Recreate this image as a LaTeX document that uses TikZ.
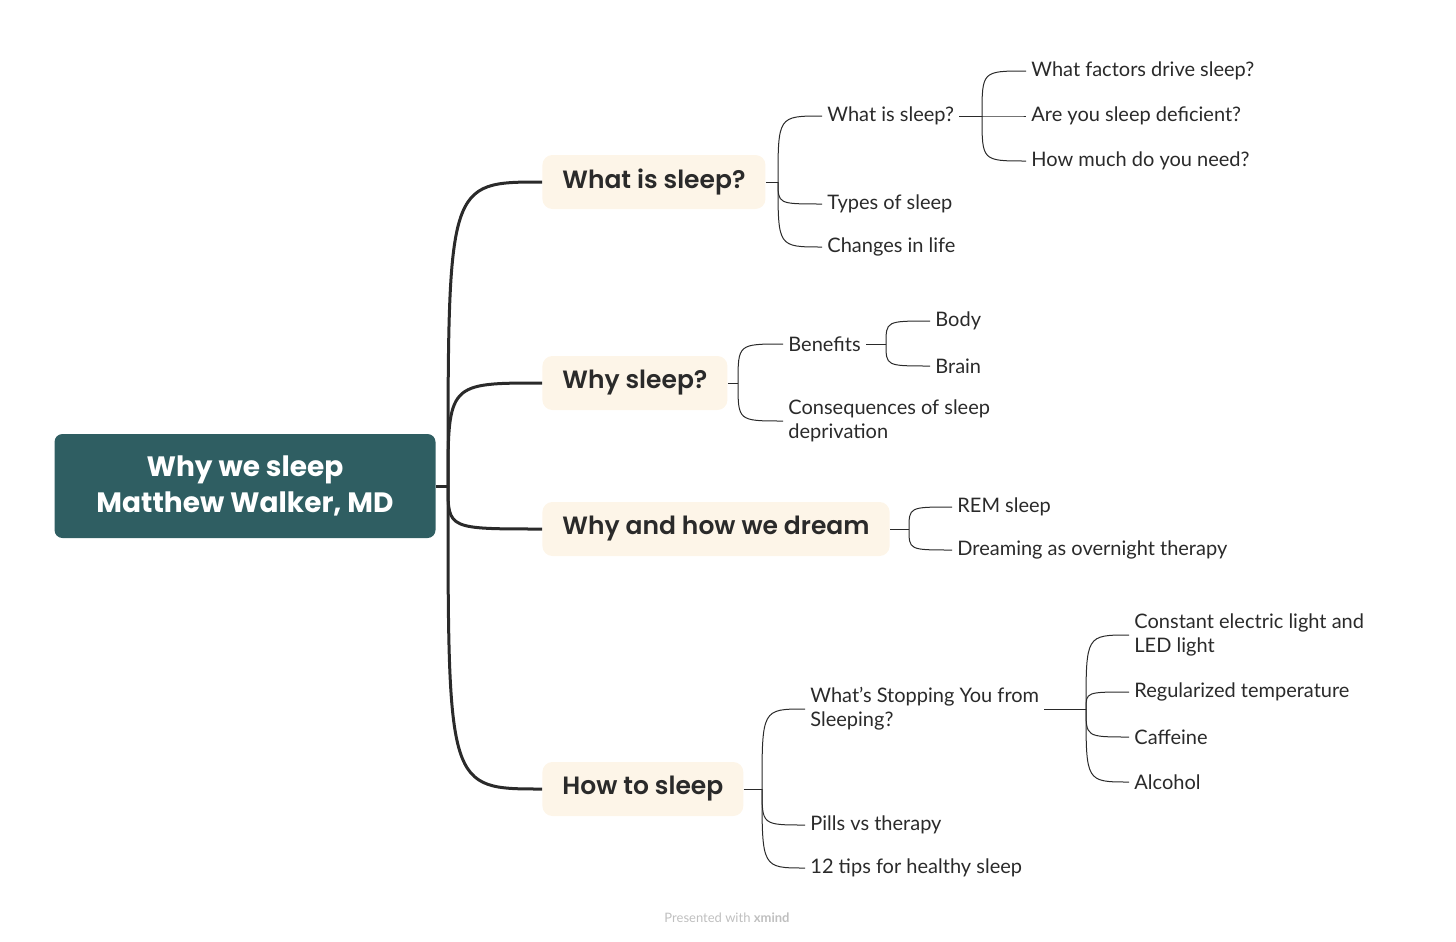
\documentclass[tikz,border=0pt]{standalone}
\usepackage{fontspec}
\setmainfont{Lato}
\newfontfamily\popb{Poppins}[UprightFont=* SemiBold]
\newfontfamily\popx{Poppins}[UprightFont=* Bold]
\definecolor{teal}{HTML}{2F5E62}
\definecolor{cream}{HTML}{FDF5E8}
\definecolor{ink}{HTML}{2A2A2A}
\begin{document}
\begin{tikzpicture}[x=0.5pt,y=-0.5pt,
  leaf/.style={anchor=west,inner xsep=2.5pt,inner ysep=0pt,font=\fontsize{10}{12}\selectfont,text=ink,align=left},
  topic/.style={anchor=west,fill=cream,inner xsep=10pt,minimum height=27pt,rounded corners=5pt,font=\popb\fontsize{12.5}{15}\selectfont,text=ink},
  thick line/.style={draw=ink,line width=1.5pt},
  thin line/.style={draw=ink,line width=0.5pt}]
\useasboundingbox (0,0) rectangle (1456,942);
\node[fill=teal,rounded corners=4pt,minimum width=190.5pt,minimum height=52pt,text=white,align=center,font=\popx\fontsize{14}{18}\selectfont] (root) at (245,486) {Why we sleep\\Matthew Walker, MD};
\coordinate (r0) at (448,486);
\draw[thick line] (root.east) -- (r0);
\node[topic] (t1) at (542,182) {What is sleep?};
\node[topic] (t2) at (542,383) {Why sleep?};
\node[topic] (t3) at (542,529) {Why and how we dream};
\node[topic] (t4) at (542,789) {How to sleep};
\foreach \t in {t1,t2,t3,t4}{
 \draw[thick line] (r0) .. controls (r0 |- \t.west) .. (\t.west);}
% subtopics
\node[leaf] (a1) at (822,116) {What is sleep?};
\node[leaf] (a2) at (822,204) {Types of sleep};
\node[leaf] (a3) at (822,247) {Changes in life};
\node[leaf] (a11) at (1026,71) {What factors drive sleep?};
\node[leaf] (a12) at (1026,116) {Are you sleep deficient?};
\node[leaf] (a13) at (1026,161) {How much do you need?};
\node[leaf] (b1) at (783,344) {Benefits};
\node[leaf] (b2) at (783,421) {Consequences of sleep\\deprivation};
\node[leaf] (b11) at (930,321) {Body};
\node[leaf] (b12) at (930,366) {Brain};
\node[leaf] (c1) at (952,507) {REM sleep};
\node[leaf] (c2) at (952,550) {Dreaming as overnight therapy};
\node[leaf] (d1) at (805,709) {What’s Stopping You from\\Sleeping?};
\node[leaf] (d2) at (805,825) {Pills vs therapy};
\node[leaf] (d3) at (805,868) {12 tips for healthy sleep};
\node[leaf] (d11) at (1129,635) {Constant electric light and\\LED light};
\node[leaf] (d12) at (1129,692) {Regularized temperature};
\node[leaf] (d13) at (1129,737) {Caffeine};
\node[leaf] (d14) at (1129,782) {Alcohol};
\coordinate (f1) at (778,182);
\coordinate (f11) at (982,116);
\coordinate (f2) at (738,383);
\coordinate (f21) at (886,344);
\coordinate (f3) at (909,529);
\coordinate (f4) at (762,789);
\coordinate (f41) at (1086,709);
\draw[thin line] (t1.east) -- (f1);
\draw[thin line] (t2.east) -- (f2);
\draw[thin line] (t3.east) -- (f3);
\draw[thin line] (t4.east) -- (f4);
\draw[thin line] (a1.east) -- (f11);
\draw[thin line] (b1.east) -- (f21);
\draw[thin line] (d1.east) -- (f41);
\foreach \f/\n in {f1/a1,f1/a2,f1/a3,f11/a11,f11/a12,f11/a13,f2/b1,f2/b2,f21/b11,f21/b12,f3/c1,f3/c2,f4/d1,f4/d2,f4/d3,f41/d11,f41/d12,f41/d13,f41/d14}{
 \draw[thin line] (\f) .. controls (\f |- \n.west) .. (\n.west);}
\node[font=\fontsize{6.5}{8}\selectfont,text=black!25] (ft) at (727,918) {Presented with \textbf{xmind}};
\end{tikzpicture}
\end{document}
